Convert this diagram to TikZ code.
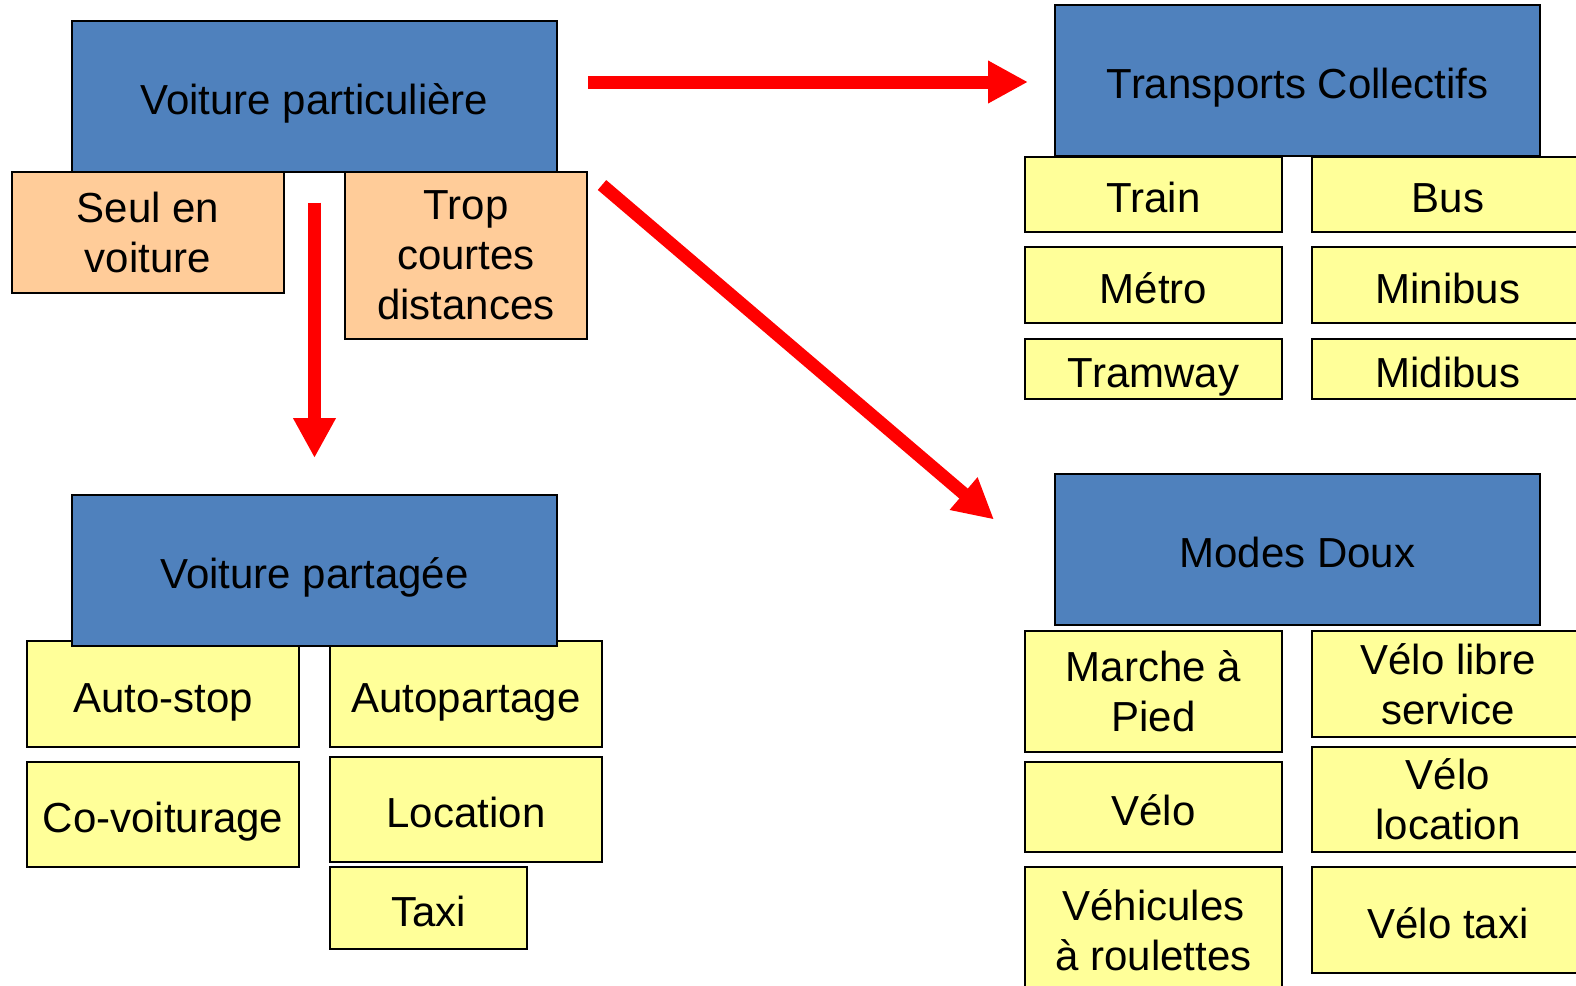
\documentclass[tikz,border=0pt]{standalone}
\usepackage{fontspec}
\setmainfont{Liberation Sans}
\usetikzlibrary{arrows.meta}
\definecolor{headblue}{HTML}{4F81BD}
\definecolor{peach}{HTML}{FFCC99}
\definecolor{paleyellow}{HTML}{FFFF99}
\tikzset{
    box/.style={draw=black,line width=1pt,inner sep=0pt,align=center,
        font=\fontsize{21}{25}\selectfont},
    oneline/.style={text height=19pt,text depth=1pt},
    header/.style={box,oneline,fill=headblue,minimum width=242.5pt,minimum height=75.5pt},
    reason/.style={box,fill=peach},
    item/.style={box,fill=paleyellow},
    redarrow/.style={draw=red,line width=6.5pt,-{Triangle[length=20pt,width=20pt]}}
}
\begin{document}
\begin{tikzpicture}[x=0.5pt,y=-0.5pt]
        \useasboundingbox (0,0) rectangle (1576,986);
        \clip (0,0) rectangle (1576,986);
        % voiture particuliere
        \node[reason,minimum width=136pt,minimum height=60.5pt] (seul) at (148,232.5) {Seul en\\voiture};
        \node[reason,minimum width=121pt,minimum height=83.5pt] (trop) at (466,255.5) {Trop\\courtes\\distances};
        \node[header] (vp) at (314.5,96) {Voiture particulière};
        % transports collectifs
        \node[item,oneline,minimum width=128.5pt,minimum height=37.5pt] (train) at (1153.5,194.5) {Train};
        \node[item,oneline,minimum width=136pt,minimum height=37.5pt] (bus) at (1448,194.5) {Bus};
        \node[item,oneline,minimum width=128.5pt,minimum height=38pt] (metro) at (1153.5,285) {Métro};
        \node[item,oneline,minimum width=136pt,minimum height=38pt] (minibus) at (1448,285) {Minibus};
        \node[item,oneline,minimum width=128.5pt,minimum height=30pt] (tram) at (1153.5,369) {Tramway};
        \node[item,oneline,minimum width=136pt,minimum height=30pt] (midibus) at (1448,369) {Midibus};
        \node[header] (tc) at (1297.5,80) {Transports Collectifs};
        % voiture partagee
        \node[item,oneline,minimum width=136pt,minimum height=53pt] (autostop) at (163,694) {Auto-stop};
        \node[item,oneline,minimum width=136pt,minimum height=53pt] (autopart) at (466,694) {Autopartage};
        \node[item,oneline,minimum width=136pt,minimum height=52.5pt] (covoit) at (163,814.5) {Co-voiturage};
        \node[item,oneline,minimum width=136pt,minimum height=52.5pt] (location) at (466,809.5) {Location};
        \node[item,oneline,minimum width=98.5pt,minimum height=41pt] (taxi) at (428.5,908) {Taxi};
        \node[header] (vpart) at (314.5,570.5) {Voiture partagée};
        % modes doux
        \node[item,minimum width=128.5pt,minimum height=60.5pt] (marche) at (1153.5,691.5) {Marche à\\Pied};
        \node[item,minimum width=136pt,minimum height=53pt] (vls) at (1448,684) {Vélo libre\\service};
        \node[item,oneline,minimum width=128.5pt,minimum height=45pt] (velo) at (1153.5,807) {Vélo};
        \node[item,minimum width=136pt,minimum height=52.5pt] (veloloc) at (1448,799.5) {Vélo\\location};
        \node[item,minimum width=128.5pt,minimum height=63pt] (roulettes) at (1153.5,930) {Véhicules\\à roulettes};
        \node[item,oneline,minimum width=136pt,minimum height=53pt] (velotaxi) at (1448,920) {Vélo taxi};
        \node[header] (md) at (1297.5,549.5) {Modes Doux};
        % fleches
        \coordinate (diagstart) at ([shift={(14,14)}]trop.north east);
        \coordinate (diagend) at ([shift={(-60,-30)}]md.west);
        \draw[redarrow] ([yshift=-15pt]vp.south) -- ([yshift=18pt]vpart.north);
        \draw[redarrow] ([yshift=-1pt]trop.east |- tc.west) -- ([xshift=-13pt,yshift=-1pt]tc.west);
        \draw[redarrow] (diagstart) -- (diagend);
    \end{tikzpicture}
\end{document}
